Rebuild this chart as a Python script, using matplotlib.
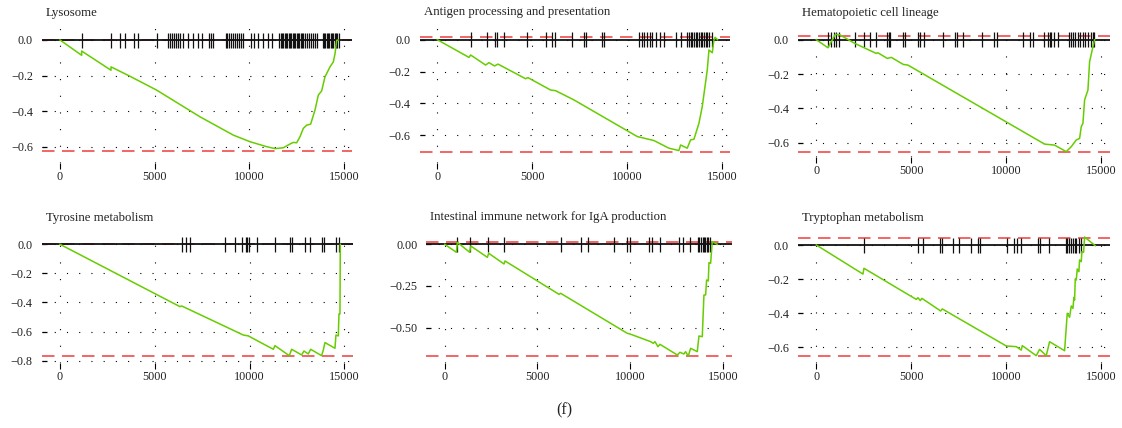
import matplotlib
matplotlib.use("Agg")
import matplotlib.pyplot as plt
import numpy as np

plt.rcParams['font.family'] = ['Liberation Serif', 'DejaVu Serif']

W, H = 1122, 428

# ---------------- data ----------------
titles = ["Lysosome", "Antigen processing and presentation", "Hematopoietic cell lineage",
          "Tyrosine metabolism", "Intestinal immune network for IgA production", "Tryptophan metabolism"]

x_ticks = [0, 5000, 10000, 15000]
x_ticklabels = ["0", "5000", "10000", "15000"]

# Lysosome
lyso_hits = [1144, 2693, 3168, 3432, 3907, 4136, 5104, 5685, 5790, 5896, 6002, 6125, 6230, 6354, 6512,
             6776, 7040, 7269, 7515, 7850, 7955, 8096, 8747, 8835, 8923, 9011, 9117, 9222, 9328, 9434,
             9539, 9645, 10067, 10226, 10472, 10701, 10982, 11211, 11581, 11651, 11722, 11792, 11862,
             11933, 12003, 12074, 12144, 12214, 12285, 12355, 12426, 12496, 12566, 12637, 12707, 12778,
             12848, 12936, 13024, 13130, 13235, 13341, 13446, 13552, 13869, 13939, 14010, 14080, 14150,
             14221, 14291, 14362, 14432, 14502, 14573, 14643, 14714]
lyso_x = [0, 1144, 1144, 2694, 2694, 3697, 5106, 7394, 9155, 10035, 10915, 11355, 11796, 12148, 12324,
          12500, 12676, 12852, 13028, 13239, 13468, 13644, 13820, 13996, 14261, 14437, 14525, 14613, 14700]
lyso_es = [0, -0.086, -0.062, -0.170, -0.151, -0.204, -0.282, -0.432, -0.535, -0.572, -0.600, -0.611,
           -0.606, -0.585, -0.576, -0.578, -0.544, -0.497, -0.479, -0.473, -0.394, -0.310, -0.286,
           -0.207, -0.151, -0.123, -0.077, -0.002, 0.0]
lyso_ref = [0.0, -0.624]
lyso_yticks = [0.0, -0.2, -0.4, -0.6]
lyso_yticklabels = ["0.0", "\u22120.2", "\u22120.4", "\u22120.6"]

# Antigen processing and presentation
anti_hits = [1754, 2631, 3017, 3122, 3508, 4736, 5701, 6016, 6192, 7104, 7718, 7841, 8683, 8771,
             10612, 10752, 10893, 11033, 11173, 11314, 11489, 11717, 11928, 12541, 12805, 13155, 13243,
             13331, 13419, 13507, 13594, 13682, 13770, 13858, 13945, 14033, 14121, 14209, 14297, 14473]
anti_x = [0, 1666, 1754, 2543, 2719, 3017, 3192, 4648, 4771, 5964, 6227, 7191, 10524, 11401, 12190,
          12717, 12805, 13155, 13331, 13507, 13770, 13945, 14209, 14297, 14473, 14560, 14620, 14750]
anti_es = [0, -0.111, -0.096, -0.159, -0.144, -0.165, -0.153, -0.245, -0.238, -0.316, -0.320, -0.378,
           -0.608, -0.633, -0.681, -0.696, -0.661, -0.681, -0.629, -0.625, -0.525, -0.420, -0.190,
           -0.065, -0.082, -0.002, 0.015, 0.0]
anti_ref = [0.015, -0.702]
anti_yticks = [0.0, -0.2, -0.4, -0.6]
anti_yticklabels = ["0.0", "\u22120.2", "\u22120.4", "\u22120.6"]

# Hematopoietic cell lineage
hema_hits = [614, 754, 912, 1052, 1210, 2052, 2526, 2841, 3157, 3718, 3824, 3894, 4560, 4683, 5350,
             5472, 5683, 6648, 7279, 7402, 7718, 8717, 9366, 9507, 10875, 11261, 11401, 11962, 12173,
             12278, 12348, 12489, 12717, 13278, 13401, 13506, 13629, 13752, 13892, 14032, 14155, 14278,
             14453, 14541, 14629]
hema_x = [0, 614, 1000, 1228, 2017, 3157, 3240, 3736, 3946, 4578, 4824, 12015, 12541, 13155, 13419,
          13682, 13858, 13945, 14033, 14121, 14297, 14384, 14560, 14648]
hema_es = [0, -0.047, 0.031, 0.029, -0.021, -0.080, -0.076, -0.109, -0.103, -0.144, -0.148, -0.608,
           -0.614, -0.652, -0.623, -0.584, -0.575, -0.507, -0.487, -0.351, -0.293, -0.128, -0.041, 0.0]
hema_ref = [0.023, -0.652]
hema_yticks = [0.0, -0.2, -0.4, -0.6]
hema_yticklabels = ["0.0", "\u22120.2", "\u22120.4", "\u22120.6"]

# Tyrosine metabolism
tyro_hits = [6424, 6635, 6864, 8712, 9240, 9592, 9803, 9891, 9979, 10384, 11352, 12144, 12232, 12901,
             13165, 13816, 13939, 14555, 14696]
tyro_x = [0, 6331, 6419, 9672, 9935, 11254, 11342, 12098, 12221, 12749, 12872, 13101, 13224, 13804,
          13892, 13980, 14508, 14560, 14683, 14719, 14771, 14789]
tyro_es = [0, -0.429, -0.424, -0.624, -0.630, -0.722, -0.697, -0.766, -0.722, -0.761, -0.734, -0.754,
           -0.722, -0.766, -0.727, -0.676, -0.715, -0.624, -0.630, -0.479, -0.479, 0.0]
tyro_ref = [0.0, -0.768]
tyro_yticks = [0.0, -0.2, -0.4, -0.6, -0.8]
tyro_yticklabels = ["0.0", "\u22120.2", "\u22120.4", "\u22120.6", "\u22120.8"]

# Intestinal immune network for IgA production
inte_hits = [647, 1365, 2353, 3215, 6250, 7328, 7741, 9142, 9842, 9986, 11009, 11189, 11602, 12644,
             12823, 13219, 13632, 13721, 13811, 13901, 13973, 14045, 14117, 14207, 14315]
inte_x = [0, 629, 682, 1347, 1401, 2299, 2371, 3197, 3251, 6161, 6250, 9842, 9986, 11099, 11243, 11333,
          11494, 11602, 12536, 12680, 12895, 12985, 13129, 13255, 13614, 13704, 13883, 13973, 14063,
          14117, 14207, 14243, 14333, 14422, 14692]
inte_es = [0, -0.048, 0.012, -0.048, -0.010, -0.078, -0.054, -0.118, -0.100, -0.300, -0.294, -0.534,
           -0.538, -0.584, -0.594, -0.584, -0.614, -0.600, -0.664, -0.648, -0.658, -0.644, -0.670,
           -0.624, -0.644, -0.550, -0.554, -0.304, -0.304, -0.214, -0.220, -0.110, -0.114, 0.016, 0.0]
inte_ref = [0.016, -0.670]
inte_yticks = [0.0, -0.25, -0.5]
inte_yticklabels = ["0.00", "\u22120.25", "\u22120.50"]

# Tryptophan metabolism
tryp_hits = [2526, 5332, 5595, 6525, 6613, 7174, 7525, 8156, 8507, 8630, 10033, 10384, 10559, 10787,
             11647, 11787, 12226, 13120, 13190, 13278, 13401, 13506, 13594, 13682, 13822, 13928]
tryp_x = [0, 2456, 2508, 5262, 5350, 5472, 5560, 6543, 6630, 9998, 10524, 10787, 10840, 11577, 11752,
          12103, 12278, 13068, 13208, 13331, 13419, 13507, 13559, 13594, 13629, 13682, 13734, 13822,
          13857, 13945, 13980, 14068, 14120, 14681]
tryp_es = [0, -0.171, -0.137, -0.320, -0.310, -0.327, -0.314, -0.388, -0.376, -0.594, -0.598, -0.618,
           -0.592, -0.651, -0.614, -0.651, -0.569, -0.622, -0.402, -0.425, -0.359, -0.373, -0.308,
           -0.324, -0.200, -0.206, -0.141, -0.157, -0.088, -0.098, -0.039, -0.043, 0.047, -0.004]
tryp_ref = [0.043, -0.653]
tryp_yticks = [0.0, -0.2, -0.4, -0.6]
tryp_yticklabels = ["0.0", "\u22120.2", "\u22120.4", "\u22120.6"]

panels_data = [
    (lyso_hits, lyso_x, lyso_es, lyso_ref, lyso_yticks, lyso_yticklabels),
    (anti_hits, anti_x, anti_es, anti_ref, anti_yticks, anti_yticklabels),
    (hema_hits, hema_x, hema_es, hema_ref, hema_yticks, hema_yticklabels),
    (tyro_hits, tyro_x, tyro_es, tyro_ref, tyro_yticks, tyro_yticklabels),
    (inte_hits, inte_x, inte_es, inte_ref, inte_yticks, inte_yticklabels),
    (tryp_hits, tryp_x, tryp_es, tryp_ref, tryp_yticks, tryp_yticklabels),
]

# ---------------- layout (pixel geometry) ----------------
# left, right, top, bottom of box; px of x=0, px per unit x; px of y=0, px per unit y
geom = [
    (42.0, 352.0, 28.0, 163.0, 60.0, 284.0 / 15000, 40.0, 177.8),
    (419.7, 730.0, 27.3, 163.3, 437.3, 285.0 / 15000, 39.7, 159.3),
    (798.0, 1109.7, 28.3, 156.5, 816.3, 285.0 / 15000, 39.7, 171.7),
    (41.7, 352.7, 233.3, 363.0, 60.0, 284.3 / 15000, 244.3, 145.4),
    (426.3, 731.7, 231.7, 363.3, 444.7, 278.3 / 15000, 244.3, 166.7),
    (798.0, 1109.7, 232.7, 363.3, 816.3, 285.0 / 15000, 245.0, 170.0),
]

GREEN = '#66CD00'
RED = '#EE2C2C'

fig = plt.figure(figsize=(W / 100, H / 100), dpi=100)

for i, (hits, ex, es, ref, yt, ytl) in enumerate(panels_data):
    L, R, T, B, px0, sx, py0, sy = geom[i]
    ax = fig.add_axes([L / W, 1 - B / H, (R - L) / W, (B - T) / H])
    ax.set_xlim((L - px0) / sx, (R - px0) / sx)
    ax.set_ylim((py0 - B) / sy, (py0 - T) / sy)
    for s in ax.spines.values():
        s.set_visible(False)

    # dotted grid
    for xv in x_ticks:
        ax.axvline(xv, color='black', lw=0.8, dashes=(1, 14), zorder=1)
    for yv in yt:
        ax.axhline(yv, color='black', lw=0.8, dashes=(1, 10), zorder=1)

    # zero line
    ax.axhline(0, color='#111111', lw=1.3, zorder=3)
    # reference dashed lines
    for rv in ref:
        ax.axhline(rv, color=RED, lw=1.2, dashes=(7.5, 4.5), alpha=0.85, zorder=2)
    # hit ticks
    hh = 7.5 / sy
    ax.vlines(hits, -hh, hh, color='#111111', lw=0.9, zorder=4)
    # running enrichment score
    ax.plot(ex, es, color=GREEN, lw=1.1, zorder=5)

    ax.set_xticks(x_ticks)
    ax.set_xticklabels(x_ticklabels)
    ax.set_yticks(yt)
    ax.set_yticklabels(ytl)
    ax.tick_params(axis='x', direction='out', length=4.3, width=0.8, pad=1.5, labelsize=8.7,
                   colors='black')
    ax.tick_params(axis='y', direction='in', length=3.6, width=0.9, pad=6.5, labelsize=8.7,
                   colors='black')
    for lab in ax.get_xticklabels() + ax.get_yticklabels():
        lab.set_color('#222222')
    ax.patch.set_alpha(0)

    fig.text((L + 4) / W, 1 - (T - 15.0) / H, titles[i], ha='left', va='center', fontsize=9.2,
             color='#222222')

fig.text(564 / W, 1 - 410 / H, "(f)", ha='center', va='center', fontsize=11.5, color='#222222')

fig.savefig("out.png", dpi=100)
